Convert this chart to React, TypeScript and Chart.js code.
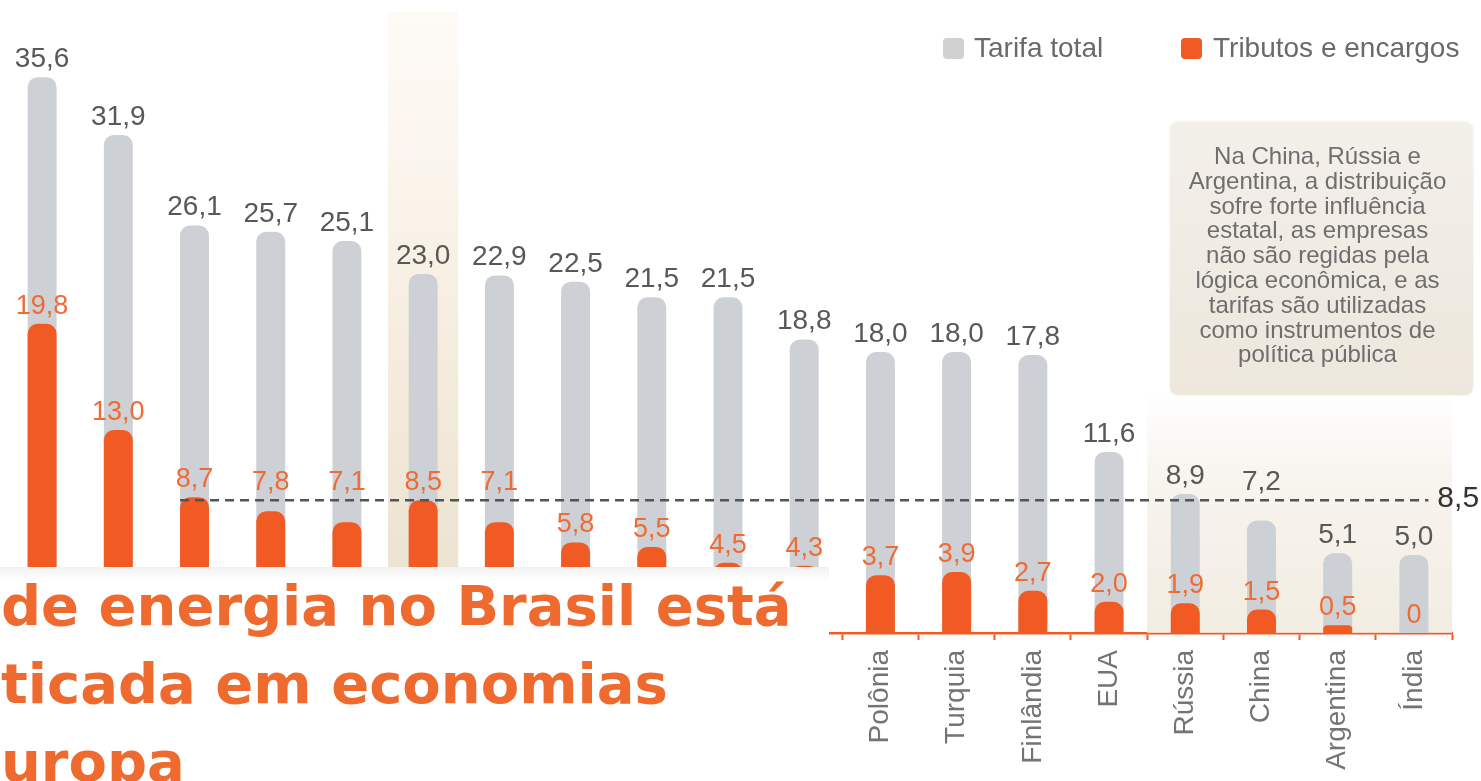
import React, { useEffect, useRef } from 'react';
import { Chart, registerables } from 'chart.js';

Chart.register(...registerables);

// ---- data ----
const categories = ['', '', '', '', '', '', '', '', '', '', '', 'Polônia', 'Turquia', 'Finlândia', 'EUA', 'Rússia', 'China', 'Argentina', 'Índia'];
const tarifaTotal = [35.6, 31.9, 26.1, 25.7, 25.1, 23.0, 22.9, 22.5, 21.5, 21.5, 18.8, 18.0, 18.0, 17.8, 11.6, 8.9, 7.2, 5.1, 5.0];
const tributos = [19.8, 13.0, 8.7, 7.8, 7.1, 8.5, 7.1, 5.8, 5.5, 4.5, 4.3, 3.7, 3.9, 2.7, 2.0, 1.9, 1.5, 0.5, 0];
const referenciaTributos = 8.5;
const destaqueIndex = 5;
const grupoEstatal = ['Rússia', 'China', 'Argentina', 'Índia'];
const seriesNames = ['Tarifa total', 'Tributos e encargos'];
const notaLinhas = [
  'Na China, Rússia e',
  'Argentina, a distribuição',
  'sofre forte influência',
  'estatal, as empresas',
  'não são regidas pela',
  'lógica econômica, e as',
  'tarifas são utilizadas',
  'como instrumentos de',
  'política pública',
];
const tituloLinhas = ['de energia no Brasil está', 'ticada em economias', 'uropa'];

const GRAY = '#CDD0D4';
const ORANGE = '#F15A22';
const LABEL_ORANGE = '#EF6B35';
const FONT = '"Liberation Sans", Arial, Helvetica, sans-serif';

const fmt = (v: number) => (v === 0 ? '0' : v.toFixed(1).replace('.', ','));

const backgroundPlugin = {
  id: 'bgRegions',
  beforeDatasetsDraw(chart: any) {
    const { ctx, chartArea, scales } = chart;
    const x = scales.x;
    const catW = x.width / categories.length;
    ctx.save();
    // highlighted column
    const cx = x.getPixelForValue(destaqueIndex);
    const g = ctx.createLinearGradient(0, chartArea.top, 0, chartArea.bottom);
    g.addColorStop(0, 'rgba(253,248,242,0.7)');
    g.addColorStop(0.45, 'rgba(247,239,227,1)');
    g.addColorStop(1, 'rgba(234,224,205,1)');
    ctx.fillStyle = g;
    ctx.fillRect(cx - catW / 2 + 3, chartArea.top + 2, catW - 6, chartArea.bottom - chartArea.top - 2);
    // state-influenced group
    const i0 = categories.indexOf(grupoEstatal[0]);
    const i1 = categories.indexOf(grupoEstatal[grupoEstatal.length - 1]);
    const x0 = x.getPixelForValue(i0) - catW / 2;
    const x1 = x.getPixelForValue(i1) + catW / 2;
    const top = chartArea.bottom - 240;
    const g2 = ctx.createLinearGradient(0, top, 0, chartArea.bottom);
    g2.addColorStop(0, 'rgba(242,236,225,0)');
    g2.addColorStop(0.35, 'rgba(242,236,225,0.55)');
    g2.addColorStop(1, 'rgba(240,233,220,0.85)');
    ctx.fillStyle = g2;
    ctx.fillRect(x0, top, x1 - x0, chartArea.bottom - top);
    ctx.restore();
  },
};

const annotationPlugin = {
  id: 'valuesAndLine',
  afterDatasetsDraw(chart: any) {
    const { ctx, scales } = chart;
    const y = scales.y;
    const metaT = chart.getDatasetMeta(0);
    const metaO = chart.getDatasetMeta(1);
    const dashY = y.getPixelForValue(referenciaTributos);
    ctx.save();
    // dashed reference line
    const first = metaT.data[2];
    const last = metaT.data[metaT.data.length - 1];
    const xs = first.x - first.width / 2;
    const xe = last.x + last.width / 2;
    ctx.strokeStyle = '#50555b';
    ctx.lineWidth = 2.5;
    ctx.setLineDash([9, 6]);
    ctx.beginPath();
    ctx.moveTo(xs, dashY);
    ctx.lineTo(xe, dashY);
    ctx.stroke();
    ctx.setLineDash([]);
    ctx.font = `30px ${FONT}`;
    ctx.fillStyle = '#333';
    ctx.textAlign = 'left';
    ctx.textBaseline = 'middle';
    ctx.fillText(fmt(referenciaTributos), xe + 9, dashY - 2);

    const place = (barTop: number) => {
      let base = barTop - 10;
      if (base > dashY - 10 && base - 21 < dashY + 4) base = dashY - 10;
      return base;
    };

    // value labels
    ctx.textAlign = 'center';
    ctx.textBaseline = 'alphabetic';
    ctx.font = `28px ${FONT}`;
    ctx.fillStyle = '#585858';
    metaT.data.forEach((bar: any, i: number) => {
      ctx.fillText(fmt(tarifaTotal[i]), bar.x, place(bar.y));
    });
    ctx.font = `27px ${FONT}`;
    ctx.fillStyle = LABEL_ORANGE;
    metaO.data.forEach((bar: any, i: number) => {
      ctx.fillText(fmt(tributos[i]), bar.x, place(bar.y));
    });
    ctx.restore();
  },
};

export default function App() {
  const canvasRef = useRef<HTMLCanvasElement | null>(null);

  useEffect(() => {
    if (!canvasRef.current) return;
    const barShape = {
      barPercentage: 0.38,
      categoryPercentage: 1,
      grouped: false,
      borderRadius: { topLeft: 10, topRight: 10, bottomLeft: 0, bottomRight: 0 },
      borderSkipped: 'start',
    };
    const chart = new Chart(canvasRef.current, {
      type: 'bar',
      data: {
        labels: categories,
        datasets: [
          { label: seriesNames[0], data: tarifaTotal, backgroundColor: GRAY, order: 2, ...barShape } as any,
          { label: seriesNames[1], data: tributos, backgroundColor: ORANGE, order: 1, ...barShape } as any,
        ],
      },
      options: {
        animation: false,
        responsive: false,
        maintainAspectRatio: false,
        layout: { padding: { top: 10, left: 4, right: 29, bottom: 0 } },
        plugins: { legend: { display: false }, tooltip: { enabled: false } },
        scales: {
          x: {
            offset: true,
            grid: {
              display: true,
              offset: true,
              drawOnChartArea: false,
              drawTicks: true,
              tickLength: 7,
              tickWidth: 2,
              tickColor: ORANGE,
            },
            border: { display: true, color: ORANGE, width: 2.5 },
            ticks: {
              autoSkip: false,
              maxRotation: 90,
              minRotation: 90,
              padding: 10,
              color: '#747474',
              font: { family: FONT, size: 28 },
            },
            afterFit: (scale: any) => {
              scale.height = 148;
            },
          },
          y: {
            display: false,
            min: 0,
            max: 39.9,
            grid: { display: false },
          },
        },
      },
      plugins: [backgroundPlugin, annotationPlugin],
    });
    return () => chart.destroy();
  }, []);

  return (
    <div style={{ position: 'fixed', left: 0, top: 0, width: 1481, height: 781, background: '#fff', overflow: 'hidden', fontFamily: FONT }}>
      <canvas ref={canvasRef} width={1481} height={781} style={{ position: 'absolute', left: 0, top: 0 }} />
      {/* legend */}
      <div style={{ position: 'absolute', left: 943, top: 38, width: 21, height: 21, background: '#D0D1D3', borderRadius: 4 }} />
      <div style={{ position: 'absolute', left: 974, top: 30, fontSize: 28, lineHeight: '36px', color: '#6a6a6a', whiteSpace: 'nowrap' }}>{seriesNames[0]}</div>
      <div style={{ position: 'absolute', left: 1181, top: 38, width: 21, height: 21, background: ORANGE, borderRadius: 4 }} />
      <div style={{ position: 'absolute', left: 1213, top: 30, fontSize: 28, lineHeight: '36px', color: '#6a6a6a', whiteSpace: 'nowrap' }}>{seriesNames[1]}</div>
      {/* note box */}
      <div
        style={{
          position: 'absolute', left: 1170, top: 122, width: 303, height: 273, boxSizing: 'border-box',
          background: 'linear-gradient(180deg, #F3F0EA 0%, #EDE7DC 100%)', borderRadius: 8,
          boxShadow: '0 0 3px rgba(0,0,0,0.08)', paddingTop: 22, paddingRight: 8,
          textAlign: 'center', color: '#6e6e6e', fontSize: 24, lineHeight: '24.8px',
        }}
      >
        {notaLinhas.map((l, i) => (
          <div key={i} style={{ whiteSpace: 'nowrap' }}>{l}</div>
        ))}
      </div>
      {/* title overlay */}
      <div
        style={{
          position: 'absolute', left: 0, top: 567, width: 828, height: 214, background: 'linear-gradient(180deg, #f1f1f1 0px, #fafafa 8px, #ffffff 14px)',
          color: '#EE6A2E', fontFamily: '"DejaVu Sans", sans-serif', fontWeight: 700, fontSize: 56, lineHeight: '78px',
          fontVariantLigatures: 'none', whiteSpace: 'nowrap', overflow: 'hidden', paddingLeft: 1,
        }}
      >
        {tituloLinhas.map((l, i) => (
          <div key={i}>{l}</div>
        ))}
      </div>
    </div>
  );
}
